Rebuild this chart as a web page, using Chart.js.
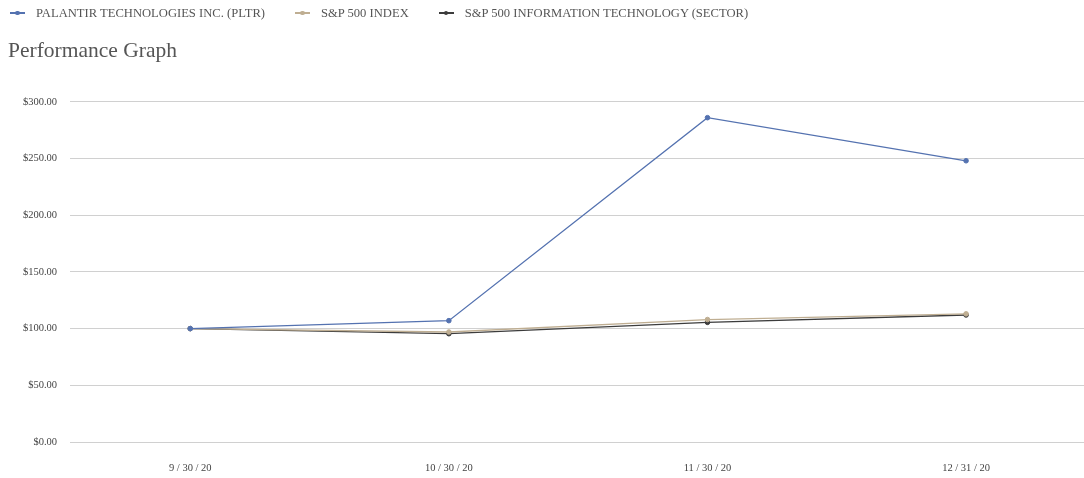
<!DOCTYPE html>
<html>
<head>
<meta charset="utf-8">
<script src="https://cdn.jsdelivr.net/npm/chart.js@4"></script>
<style>
  html, body { margin: 0; padding: 0; background: #ffffff; overflow: hidden; }
  #wrap { position: relative; width: 1084px; height: 478px; }
  #chart { display: block; }
  #legend {
    position: absolute; left: 10px; top: 5px;
    display: flex; align-items: center;
    font-family: 'Liberation Serif', 'DejaVu Serif', serif;
    font-size: 12.6px; color: #555555; line-height: 16px;
  }
  .item { display: flex; align-items: center; margin-right: 30px; white-space: nowrap; }
  .mark { position: relative; width: 15px; height: 1.5px; margin-right: 11px; }
  .mark::after {
    content: ''; position: absolute; left: 5px; top: -1.5px;
    width: 4.5px; height: 4.5px; border-radius: 50%; background: inherit;
  }
</style>
</head>
<body>
<div id="wrap">
  <div id="legend"></div>
  <canvas id="chart" width="1084" height="478"></canvas>
</div>
<script>
// Chart values
const dates = ['9 / 30 / 20', '10 / 30 / 20', '11 / 30 / 20', '12 / 31 / 20'];
const pltr = [100, 107, 286, 248];
const spx = [100, 97, 108, 113];
const infoTech = [100, 95.5, 105.5, 112];
const yTicks = [0, 50, 100, 150, 200, 250, 300];

const serif = "'Liberation Serif', 'DejaVu Serif', serif";

function toPoints(values) {
  return values.map((v, i) => ({ x: i, y: v }));
}

function lineSet(label, values, color) {
  return {
    label: label,
    data: toPoints(values),
    borderColor: color,
    backgroundColor: color,
    borderWidth: 1.3,
    pointRadius: 2.3,
    pointBorderWidth: 1,
    pointBackgroundColor: color,
    tension: 0
  };
}

// Build the legend row from the datasets
function renderLegend(chart) {
  const el = document.getElementById('legend');
  el.innerHTML = '';
  chart.data.datasets.forEach(ds => {
    const item = document.createElement('div');
    item.className = 'item';
    const mark = document.createElement('span');
    mark.className = 'mark';
    mark.style.background = ds.borderColor;
    const label = document.createElement('span');
    label.textContent = ds.label;
    item.appendChild(mark);
    item.appendChild(label);
    el.appendChild(item);
  });
}

// Initialize chart
function initChart() {
  const ctx = document.getElementById('chart');
  const chart = new Chart(ctx, {
    type: 'line',
    data: {
      datasets: [
        lineSet('PALANTIR TECHNOLOGIES INC. (PLTR)', pltr, '#5472b0'),
        lineSet('S&P 500 INDEX', spx, '#bfae92'),
        lineSet('S&P 500 INFORMATION TECHNOLOGY (SECTOR)', infoTech, '#3c3c3c')
      ]
    },
    options: {
      responsive: false,
      animation: false,
      layout: { autoPadding: false, padding: { left: 8, right: 0, top: 30, bottom: 0 } },
      plugins: {
        legend: { display: false },
        title: {
          display: true,
          text: 'Performance Graph',
          align: 'start',
          color: '#555555',
          font: { family: serif, size: 21.5, weight: 'normal', lineHeight: 1.2 },
          padding: { top: 8, bottom: 38 }
        },
        tooltip: { enabled: true }
      },
      scales: {
        x: {
          type: 'linear',
          min: -0.465,
          max: 3.456,
          afterBuildTicks: scale => {
            scale.ticks = dates.map((_, i) => ({ value: i }));
          },
          afterFit: scale => { scale.height = 36; },
          grid: { display: false },
          border: { display: false },
          ticks: {
            padding: 12,
            color: '#444444',
            font: { family: serif, size: 10.5 },
            callback: v => dates[v]
          }
        },
        y: {
          min: 0,
          max: 300,
          afterBuildTicks: scale => {
            scale.ticks = yTicks.map(v => ({ value: v }));
          },
          afterFit: scale => { scale.width = 62; },
          grid: { color: '#d0d0d0', drawTicks: false, lineWidth: 1 },
          border: { display: false },
          ticks: {
            padding: 13,
            color: '#444444',
            font: { family: serif, size: 10.5 },
            callback: v => '$' + v.toFixed(2)
          }
        }
      }
    }
  });
  renderLegend(chart);
}

window.addEventListener('DOMContentLoaded', initChart);
</script>
</body>
</html>
